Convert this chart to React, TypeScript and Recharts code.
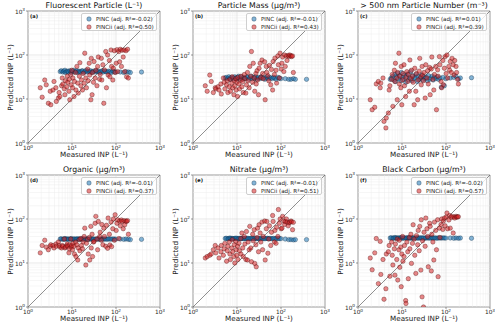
import { ScatterChart, Scatter, XAxis, YAxis, ReferenceLine, ReferenceArea } from 'recharts';

// measured INP (L^-1), shared by every panel
const measuredPINC = [5.4, 5.7, 6.2, 6.5, 6.9, 7.1, 7.6, 8.0, 8.3, 8.9, 9.4, 9.7, 10.3, 10.9, 11.4, 12.2, 12.7, 13.5, 14.1, 15.0, 15.8, 16.9, 17.5, 18.6, 19.8, 21.0, 22.3, 23.1, 24.9, 26.2, 27.8, 29.5, 31.0, 33.4, 35.1, 37.6, 39.9, 42.8, 45.3, 48.6, 51.2, 55.0, 58.7, 63.1, 67.4, 72.9, 78.3, 85.0, 91.6, 99.0, 125, 150, 168, 192, 212, 380];
const measuredPINCii = [1.9, 2.1, 2.4, 2.6, 2.9, 3.2, 3.3, 3.7, 3.9, 4.3, 4.4, 4.9, 5.1, 5.3, 5.8, 6.0, 6.2, 6.7, 6.9, 7.1, 7.6, 7.8, 8.0, 8.5, 8.7, 8.9, 9.4, 9.6, 9.9, 10.3, 10.5, 11.1, 11.4, 12.1, 12.3, 12.9, 13.5, 13.9, 14.7, 15.1, 15.9, 16.4, 17.3, 17.9, 18.9, 19.5, 20.6, 21.3, 22.7, 23.4, 24.6, 25.3, 26.8, 27.4, 28.6, 29.3, 30.8, 31.7, 33.6, 34.8, 36.9, 38.2, 39.6, 42.5, 43.7, 46.4, 47.6, 50.3, 52.8, 54.6, 58.4, 60.7, 64.5, 66.2, 70.8, 72.6, 77.1, 79.5, 84.6, 87.2, 91.8, 95.4, 101, 105, 109, 116, 121, 125, 133, 137, 146, 153, 158, 169, 174, 183, 191];

// predicted INP, PINC
const pincFluor = [42, 44, 41, 43, 45, 40, 42, 43, 41, 44, 42, 40, 43, 45, 41, 42, 44, 40, 43, 42, 41, 44, 43, 40, 42, 45, 41, 43, 42, 44, 40, 42, 43, 41, 44, 42, 43, 40, 42, 44, 41, 43, 42, 41, 43, 42, 40, 43, 42, 41, 41, 40, 42, 41, 40, 41];
const pincMass = [30, 31, 29, 32, 30, 28, 31, 30, 29, 32, 30, 28, 31, 33, 29, 30, 32, 28, 31, 30, 29, 32, 31, 28, 30, 33, 29, 31, 30, 32, 28, 30, 31, 29, 32, 30, 31, 28, 30, 32, 29, 31, 30, 29, 31, 30, 28, 31, 30, 29, 29, 28, 28, 29, 28, 28];
const pincNum = [28, 30, 33, 27, 36, 25, 32, 38, 29, 34, 26, 40, 31, 28, 35, 24, 33, 37, 27, 30, 42, 26, 34, 29, 31, 36, 25, 33, 28, 30, 35, 27, 32, 29, 31, 26, 34, 28, 30, 33, 27, 31, 29, 32, 28, 30, 18.6, 31, 20, 29, 30, 31, 33, 28.6, 30, 30.5];
const pincOrganic = [35, 35.5, 34.5, 35, 36, 34.8, 35.2, 35, 34.6, 35.4, 35, 35.8, 34.5, 35, 35.3, 34.8, 35, 35.6, 34.7, 35.1, 35, 34.5, 35.5, 35, 34.8, 35.2, 35.7, 34.6, 35, 35.3, 34.9, 35.1, 35, 34.5, 35.4, 35, 35.2, 34.7, 35, 35.5, 34.8, 35.1, 35, 34.6, 35.3, 35, 34.9, 35.2, 35, 34.8, 35, 34.5, 35, 34.5, 34, 34.5];
const pincNitrate = [36, 36.5, 35.5, 36, 37, 35.8, 36.2, 36, 35.6, 36.4, 36, 36.8, 35.5, 36, 36.3, 35.8, 36, 36.6, 35.7, 36.1, 36, 35.5, 36.5, 36, 35.8, 36.2, 36.7, 35.6, 36, 36.3, 35.9, 36.1, 36, 35.5, 36.4, 36, 36.2, 35.7, 36, 36.5, 35.8, 36.1, 36, 35.6, 36.3, 36, 35.9, 36.2, 36, 35.8, 35, 34, 34, 33.5, 34, 34];
const pincBC = [37, 37.5, 36.5, 37, 38, 36.8, 37.2, 37, 36.6, 37.4, 37, 37.8, 36.5, 37, 37.3, 36.8, 37, 37.6, 36.7, 37.1, 37, 36.5, 37.5, 37, 36.8, 37.2, 37.7, 36.6, 37, 37.3, 36.9, 37.1, 37, 36.5, 37.4, 37, 37.2, 36.7, 37, 37.5, 36.8, 37.1, 37, 36.6, 37.3, 37, 36.9, 37.2, 37, 36.8, 37, 36.5, 37, 36.5, 37, 36.5];

// predicted INP, PINCii
const piniiFluor = [18, 11, 27, 21, 8, 15, 7.4, 16, 25, 18, 8.8, 10.5, 14, 11.4, 20, 30, 22, 17, 12.5, 26, 19, 33, 24, 15, 28, 9.6, 36, 21, 45, 18, 30, 11.4, 25, 40, 16, 55, 23, 13.6, 33, 67, 20, 27, 16, 38, 23, 110, 30, 18, 48, 26, 65, 35, 9.6, 84, 12.5, 40, 24, 71, 30, 45, 20, 55, 90, 28, 36, 84, 27, 60, 8, 46, 120, 18, 100, 35, 75, 32, 130, 55, 27, 50, 125, 40, 65, 132, 42, 120, 70, 135, 55, 128, 90, 130, 42, 125, 32, 135, 30];
const piniiMass = [20, 15, 35, 25, 14, 18, 17, 19, 16, 22, 13, 30, 24, 17, 21, 26, 14, 19, 28, 15, 23, 32, 18, 12.5, 26, 20, 29, 16, 24, 11.4, 31, 22, 17, 27, 33, 19, 25, 14, 36, 29, 13.6, 21, 40, 26, 18, 55, 33, 120, 24, 65, 30, 15, 38, 22, 44, 27, 12.5, 50, 65, 31, 77, 38, 29, 70, 9.6, 55, 40, 34, 26, 58, 21, 47, 16, 71, 36, 85, 45, 23, 95, 60, 30, 110, 48, 65, 90, 42, 100, 55, 95, 75, 98, 92, 100, 96, 92, 95, 40];
const piniiNum = [9.6, 5.7, 6.5, 22, 25, 18, 23, 30, 3.1, 2.2, 3.7, 4.8, 16, 20, 28, 36, 6.8, 45, 25, 65, 30, 9.6, 40, 110, 22, 33, 18, 55, 7.4, 27, 38, 60, 20, 11.4, 31, 42, 25, 36, 15, 77, 29, 45, 33, 24, 7.4, 50, 15, 38, 9.6, 27, 43, 84, 32, 21, 55, 35, 26, 40, 10.5, 60, 30, 44, 22, 52, 12.5, 48, 90, 28, 16, 36, 55, 5.7, 46, 33, 92, 60, 25, 18, 75, 21, 50, 92, 38, 100, 30, 55, 45, 71, 40, 84, 60, 35, 75, 55, 40, 28, 22];
const piniiOrganic = [17, 25, 33, 23, 20, 24, 26, 25, 22, 27, 24, 30, 25, 23, 22, 25, 24, 35, 22, 23, 25, 27, 24, 17, 21, 26, 35, 23, 25, 20, 28, 24, 16, 30, 14, 26, 11.7, 22, 34, 19, 36, 25, 21, 30, 40, 62, 9, 28, 34, 16, 38, 11.7, 68, 22, 45, 14, 30, 31, 80, 115, 35, 20, 88, 40, 50, 33, 75, 26, 62, 40, 24, 72, 21.6, 105, 45, 25.7, 85, 23.6, 60, 100, 33, 125, 55, 80, 96, 36, 90, 70, 95, 88, 60, 92, 74, 90, 88, 92, 45];
const piniiNitrate = [13, 14, 15, 16, 20, 25, 17, 22, 13, 18, 25, 15, 21, 28, 11, 19, 24, 30, 16, 12, 22, 34, 18, 14, 26, 10, 31, 20, 15, 24, 12, 28, 19, 36, 16, 48, 22, 14, 40, 27, 12, 52, 11.7, 30, 20, 68, 22, 10.7, 45, 32, 57, 9.8, 26, 8.2, 38, 62, 18, 74, 48, 30, 85, 20, 40, 90, 11.7, 60, 88, 16.7, 35, 70, 25, 50, 120, 88, 30, 55, 28, 65, 40, 164, 80, 100, 60, 62, 115, 90, 75, 88, 100, 85, 70, 82, 85, 90, 86, 57, 84];
const piniiBC = [13, 7, 17, 36, 3.4, 31, 5.5, 12, 1.5, 2.6, 16, 18, 25, 5, 30, 15, 9, 21, 5.3, 27, 12, 35, 4.1, 20, 33, 8, 23, 2.9, 16, 40, 11, 14, 25, 1.4, 1.2, 30, 18, 4.4, 38, 21, 45, 9.8, 28, 74, 35, 15, 5.8, 42, 26, 55, 19, 68, 6.9, 96, 1.7, 32, 1.0, 50, 24, 105, 60, 40, 8.2, 80, 68, 6.6, 45, 30, 11.7, 85, 55, 20, 96, 4.9, 62, 38, 75, 100, 58, 90, 105, 70, 110, 137, 60, 95, 120, 62, 108, 115, 48, 112, 105, 115, 110, 112, 113];

const titles = ['Fluorescent Particle (L⁻¹)', 'Particle Mass (μg/m³)', '> 500 nm Particle Number (m⁻³)', 'Organic (μg/m³)', 'Nitrate (μg/m³)', 'Black Carbon (μg/m³)'];
const letters = ['(a)', '(b)', '(c)', '(d)', '(e)', '(f)'];
const r2PINC = ['-0.02', '-0.01', '0.01', '-0.01', '-0.01', '-0.02'];
const r2PINCii = ['0.50', '0.43', '0.39', '0.37', '0.51', '0.57'];
const pincSeries = [pincFluor, pincMass, pincNum, pincOrganic, pincNitrate, pincBC];
const piniiSeries = [piniiFluor, piniiMass, piniiNum, piniiOrganic, piniiNitrate, piniiBC];

const decades = [1, 10, 100, 1000];
const minor = [2, 3, 4, 5, 6, 7, 8, 9, 20, 30, 40, 50, 60, 70, 80, 90, 200, 300, 400, 500, 600, 700, 800, 900];

const W = 165;
const H = 164;
const YW = 28; // y axis band
const XH = 21; // x axis band
const M = { top: 11, right: 5, bottom: 0, left: 0 };
const PW = W - YW - M.right;
const PH = H - M.top - XH;
const FONT = '"DejaVu Sans", sans-serif';

const BLUE = '#1f77b4';
const RED = '#d62728';

function XTick(props: any) {
  const { x, y, payload } = props;
  const e = Math.round(Math.log10(payload.value));
  return (
    <text x={x} y={y + 3} textAnchor="middle" fontSize={5.8} fill="#222" fontFamily={FONT}>
      10<tspan dy={-2.4} fontSize={4.2}>{e}</tspan>
    </text>
  );
}

function YTick(props: any) {
  const { x, y, payload } = props;
  const e = Math.round(Math.log10(payload.value));
  return (
    <text x={x + 1} y={y + 2.5} textAnchor="end" fontSize={5.8} fill="#222" fontFamily={FONT}>
      10<tspan dy={-2.4} fontSize={4.2}>{e}</tspan>
    </text>
  );
}

const dot = (fill: string, stroke: string) => (props: any) => (
  <circle cx={props.cx} cy={props.cy} r={2.2} fill={fill} fillOpacity={0.55} stroke={stroke} strokeOpacity={0.7} strokeWidth={0.5} />
);

function Panel({ idx, left, top }: { idx: number; left: number; top: number }) {
  const pinc = measuredPINC.map((x, i) => ({ x, y: pincSeries[idx][i] }));
  const pincii = measuredPINCii.map((x, i) => ({ x, y: piniiSeries[idx][i] }));
  return (
    <div style={{ position: 'absolute', left, top, width: W, height: H, fontFamily: FONT }}>
      <ScatterChart width={W} height={H} margin={M}>
        <XAxis type="number" dataKey="x" scale="log" domain={[1, 1000]} ticks={decades} interval={0}
          allowDataOverflow height={XH} axisLine={false} tickSize={2} tickLine={{ stroke: '#555', strokeWidth: 0.6 }} tick={<XTick />} />
        <YAxis type="number" dataKey="y" scale="log" domain={[1, 1000]} ticks={decades} interval={0}
          allowDataOverflow width={YW} axisLine={false} tickSize={2} tickLine={{ stroke: '#555', strokeWidth: 0.6 }} tick={<YTick />} />
        {minor.map(v => <ReferenceLine key={'mx' + v} x={v} stroke="#ececec" strokeWidth={0.5} />)}
        {minor.map(v => <ReferenceLine key={'my' + v} y={v} stroke="#ececec" strokeWidth={0.5} />)}
        {decades.map(v => <ReferenceLine key={'gx' + v} x={v} stroke="#d8d8d8" strokeWidth={0.6} />)}
        {decades.map(v => <ReferenceLine key={'gy' + v} y={v} stroke="#d8d8d8" strokeWidth={0.6} />)}
        <ReferenceLine segment={[{ x: 1, y: 1 }, { x: 1000, y: 1000 }]} stroke="#444" strokeWidth={0.6} />
        <Scatter data={pinc} shape={dot(BLUE, '#0b2a45')} isAnimationActive={false} />
        <Scatter data={pincii} shape={dot(RED, '#4a0a0a')} isAnimationActive={false} />
        <ReferenceArea x1={1} x2={1000} y1={1} y2={1000} fill="none" stroke="#777" strokeWidth={0.8} />
      </ScatterChart>
      <div style={{ position: 'absolute', left: YW, width: PW, top: 1, textAlign: 'center', fontSize: 7.8, lineHeight: '10px', color: '#111', whiteSpace: 'nowrap' }}>
        {titles[idx]}
      </div>
      <div style={{ position: 'absolute', left: YW, width: PW, top: M.top + PH + 7, textAlign: 'center', fontSize: 7.2, lineHeight: '9px', color: '#222', whiteSpace: 'nowrap' }}>
        Measured INP (L⁻¹)
      </div>
      <div style={{ position: 'absolute', left: 10 - PH / 2, width: PH, top: M.top + PH / 2 - 4.5, textAlign: 'center', fontSize: 7.2, lineHeight: '9px', color: '#222', whiteSpace: 'nowrap', transform: 'rotate(-90deg)' }}>
        Predicted INP (L⁻¹)
      </div>
      <div style={{ position: 'absolute', left: YW + 2, top: M.top + 2, fontSize: 5, fontWeight: 'bold', lineHeight: '7px', color: '#111' }}>
        {letters[idx]}
      </div>
      <div style={{ position: 'absolute', left: YW + 53, top: M.top + 2, width: 76, height: 18, boxSizing: 'border-box', border: '0.6px solid #cfcfcf', borderRadius: 2, background: 'rgba(255,255,255,0.8)', fontSize: 5.6, lineHeight: '8px', color: '#222', padding: '1px 0 0 4px', whiteSpace: 'nowrap' }}>
        <div style={{ display: 'flex', alignItems: 'center' }}>
          <svg width={10} height={8}><circle cx={3} cy={4} r={2.2} fill={BLUE} fillOpacity={0.55} stroke="#0b2a45" strokeOpacity={0.7} strokeWidth={0.5} /></svg>
          <span>PINC (adj. R²={r2PINC[idx]})</span>
        </div>
        <div style={{ display: 'flex', alignItems: 'center' }}>
          <svg width={10} height={8}><circle cx={3} cy={4} r={2.2} fill={RED} fillOpacity={0.55} stroke="#4a0a0a" strokeOpacity={0.7} strokeWidth={0.5} /></svg>
          <span>PINCii (adj. R²={r2PINCii[idx]})</span>
        </div>
      </div>
    </div>
  );
}

export default function App() {
  return (
    <div style={{ position: 'absolute', left: 0, top: 0, width: 500, height: 328, background: '#fff' }}>
      {titles.map((t, i) => (
        <Panel key={t} idx={i} left={(i % 3) * 165} top={Math.floor(i / 3) * 164} />
      ))}
    </div>
  );
}
